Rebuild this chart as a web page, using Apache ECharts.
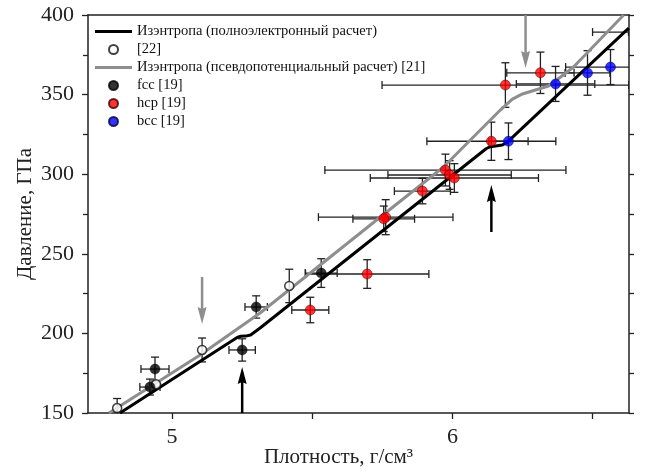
<!DOCTYPE html>
<html>
<head>
<meta charset="utf-8">
<script src="https://cdn.jsdelivr.net/npm/echarts@6/dist/echarts.min.js"></script>
<style>
  html, body { margin: 0; padding: 0; background: #fff; }
  #main { width: 647px; height: 472px; }
</style>
</head>
<body>
<div id="main"></div>
<script>
// данные: [плотность, давление, ошибка по x, ошибка по y]
const ref22 = [
  [4.804, 153.1, 0, 6],
  [4.943, 168.0, 0, 0],
  [5.107, 189.6, 0, 7.5],
  [5.418, 229.8, 0, 10.5]
]
const fcc = [
  [4.921, 166.3, 0.036, 5],
  [4.939, 177.6, 0.05, 7.5],
  [5.25, 189.6, 0.047, 7],
  [5.30, 216.6, 0.04, 7],
  [5.532, 237.9, 0.057, 9]
]
const hcp = [
  [5.493, 214.7, 0.066, 8],
  [5.696, 237.3, 0.22, 9],
  [5.762, 273.0, 0.24, 11],
  [5.755, 272.0, 0.11, 8],
  [5.893, 289.4, 0.1, 8],
  [5.975, 302.6, 0.43, 10],
  [5.99, 299.5, 0.22, 9],
  [6.007, 297.6, 0.3, 9],
  [6.139, 320.7, 0.23, 12],
  [6.189, 356.0, 0.44, 14],
  [6.314, 363.7, 0.12, 13]
]
const bcc = [
  [6.2, 320.7, 0.07, 11.5],
  [6.368, 356.7, 0.14, 11],
  [6.482, 363.6, 0.08, 14],
  [6.564, 367.3, 0.16, 11]
]
// отдельный отрезок погрешности без видимой точки
const extraBars = [[6.564, 389.3, 0.064, 0]]

// изэнтропы
const allElX = [4.814, 5.232, 5.245, 5.262, 5.28, 5.314, 6.12, 6.135, 6.16, 6.178, 6.195, 6.629]
const allElY = [150, 197.4, 198.2, 198.3, 199.0, 203.4, 316.0, 317.3, 317.9, 318.3, 320.0, 391.8]
const pseudoX = [4.775, 5.1, 5.314, 5.743, 5.968, 6.171, 6.214, 6.25, 6.296, 6.343, 6.386, 6.432, 6.611]
const pseudoY = [150, 186.4, 212.8, 273.1, 304.5, 340.3, 347.2, 350.4, 352.9, 355.4, 361.1, 367.3, 400]

// стрелки: [x, y начала, y острия]
const grayArrows = [[5.107, 235.4, 205.9], [6.261, 400, 366.7]]
const blackArrows = [[5.25, 150, 178.9], [6.139, 263.7, 293.2]]

const xTicks = [5, 5.5, 6, 6.5]
const xLabels = [5, 6]

const FONT = 'Liberation Serif'
const LINE_ICON = 'path://M0,0H40V3.4H0Z'

function zip(xs, ys) {
  return xs.map((x, i) => [x, ys[i]])
}

function errRender(params, api) {
  const x = api.value(0), y = api.value(1)
  const dx = api.value(2), dy = api.value(3)
  const cap = 4
  const st = { stroke: '#222', lineWidth: 1.3 }
  const ch = []
  if (dx > 0) {
    const l = api.coord([x - dx, y]), r = api.coord([x + dx, y])
    ch.push({ type: 'line', shape: { x1: l[0], y1: l[1], x2: r[0], y2: r[1] }, style: st })
    ch.push({ type: 'line', shape: { x1: l[0], y1: l[1] - cap, x2: l[0], y2: l[1] + cap }, style: st })
    ch.push({ type: 'line', shape: { x1: r[0], y1: r[1] - cap, x2: r[0], y2: r[1] + cap }, style: st })
  }
  if (dy > 0) {
    const t = api.coord([x, y + dy]), b = api.coord([x, y - dy])
    ch.push({ type: 'line', shape: { x1: t[0], y1: t[1], x2: b[0], y2: b[1] }, style: st })
    ch.push({ type: 'line', shape: { x1: t[0] - cap, y1: t[1], x2: t[0] + cap, y2: t[1] }, style: st })
    ch.push({ type: 'line', shape: { x1: b[0] - cap, y1: b[1], x2: b[0] + cap, y2: b[1] }, style: st })
  }
  return { type: 'group', children: ch }
}

function arrowRender(color) {
  return function (params, api) {
    const s = api.coord([api.value(0), api.value(1)])
    const e = api.coord([api.value(0), api.value(2)])
    const dir = e[1] > s[1] ? 1 : -1
    const hl = 15, hw = 4.5
    const base = e[1] - dir * hl
    return {
      type: 'group',
      children: [
        { type: 'line', shape: { x1: s[0], y1: s[1], x2: s[0], y2: base }, style: { stroke: color, lineWidth: 2.5 } },
        { type: 'polygon', shape: { points: [[e[0], e[1]], [e[0] - hw, base - dir * 2], [e[0], base], [e[0] + hw, base - dir * 2]] }, style: { fill: color } }
      ]
    }
  }
}

const errSeries = [ref22, fcc, hcp, bcc, extraBars].map(d => ({
  type: 'custom',
  renderItem: errRender,
  data: d,
  clip: true,
  z: 1,
  silent: true
}))

var myChart = echarts.init(document.getElementById('main'))

var option = {
  animation: false,
  grid: { left: 88, right: 18, top: 15, bottom: 59, outerBoundsMode: 'none' },
  legend: {
    orient: 'vertical',
    left: 90,
    top: 19,
    itemWidth: 37,
    itemHeight: 9,
    itemGap: 3,
    textStyle: { fontFamily: FONT, fontSize: 14.5, color: '#111', lineHeight: 14 },
    data: [
      { name: 'Изэнтропа (полноэлектронный расчет)', icon: LINE_ICON },
      '[22]',
      { name: 'Изэнтропа (псевдопотенциальный расчет) [21]', icon: LINE_ICON },
      'fcc [19]',
      'hcp [19]',
      'bcc [19]'
    ]
  },
  xAxis: [
    {
      type: 'value',
      min: 4.7,
      max: 6.63,
      name: 'Плотность, г/см³',
      nameLocation: 'middle',
      nameGap: 34,
      nameMoveOverlap: false,
      nameTextStyle: { fontFamily: FONT, fontSize: 21, color: '#222', padding: [0, 40, 0, 0] },
      splitLine: { show: false },
      axisLine: { lineStyle: { color: '#222', width: 1.5 } },
      axisTick: { customValues: xTicks, length: 6, lineStyle: { color: '#222', width: 1.3 } },
      axisLabel: { customValues: xLabels, fontFamily: FONT, fontSize: 22, color: '#222', margin: 13 }
    },
    {
      type: 'value',
      position: 'top',
      min: 4.7,
      max: 6.63,
      splitLine: { show: false },
      axisLine: { lineStyle: { color: '#222', width: 1.5 } },
      axisTick: { show: false },
      axisLabel: { show: false }
    }
  ],
  yAxis: [
    {
      type: 'value',
      min: 150,
      max: 400,
      interval: 50,
      name: 'Давление, ГПа',
      nameLocation: 'middle',
      nameGap: 52,
      nameMoveOverlap: false,
      nameTextStyle: { fontFamily: FONT, fontSize: 21, color: '#222' },
      splitLine: { show: false },
      axisLine: { show: true, lineStyle: { color: '#222', width: 1.5 } },
      axisTick: { show: true, length: 6, lineStyle: { color: '#222', width: 1.3 } },
      minorTick: { show: true, splitNumber: 2, length: 5, lineStyle: { color: '#222', width: 1.3 } },
      axisLabel: { fontFamily: FONT, fontSize: 22, color: '#222', margin: 14 }
    },
    {
      type: 'value',
      position: 'right',
      min: 150,
      max: 400,
      interval: 25,
      splitLine: { show: false },
      axisLine: { show: true, lineStyle: { color: '#222', width: 1.5 } },
      axisTick: { show: true, length: 5, lineStyle: { color: '#222', width: 1.3 } },
      axisLabel: { show: false }
    }
  ],
  series: [
    ...errSeries,
    {
      name: 'Изэнтропа (полноэлектронный расчет)',
      type: 'line',
      data: zip(allElX, allElY),
      symbol: 'none',
      smooth: false,
      clip: true,
      z: 3,
      color: '#000',
      lineStyle: { color: '#000', width: 3, join: 'round' }
    },
    {
      name: 'Изэнтропа (псевдопотенциальный расчет) [21]',
      type: 'line',
      data: zip(pseudoX, pseudoY),
      symbol: 'none',
      smooth: false,
      clip: true,
      z: 2,
      color: '#8e8e8e',
      lineStyle: { color: '#8e8e8e', width: 3, join: 'round' }
    },
    {
      type: 'custom',
      renderItem: arrowRender('#8e8e8e'),
      data: grayArrows,
      z: 4,
      silent: true
    },
    {
      type: 'custom',
      renderItem: arrowRender('#000'),
      data: blackArrows,
      z: 4,
      silent: true
    },
    {
      name: '[22]',
      type: 'scatter',
      data: ref22.map(p => [p[0], p[1]]),
      symbol: 'circle',
      symbolSize: 9,
      z: 5,
      itemStyle: { color: '#fff', borderColor: '#111', borderWidth: 1.5 }
    },
    {
      name: 'fcc [19]',
      type: 'scatter',
      data: fcc.map(p => [p[0], p[1]]),
      symbolSize: 10,
      z: 5,
      itemStyle: { color: '#000', borderColor: '#000', borderWidth: 0.5 }
    },
    {
      name: 'hcp [19]',
      type: 'scatter',
      data: hcp.map(p => [p[0], p[1]]),
      symbolSize: 10,
      z: 5,
      itemStyle: { color: '#ff0000', borderColor: '#3a0000', borderWidth: 0.6 }
    },
    {
      name: 'bcc [19]',
      type: 'scatter',
      data: bcc.map(p => [p[0], p[1]]),
      symbolSize: 10,
      z: 5,
      itemStyle: { color: '#0000ff', borderColor: '#00003a', borderWidth: 0.6 }
    }
  ]
}

myChart.setOption(option)
</script>
</body>
</html>
